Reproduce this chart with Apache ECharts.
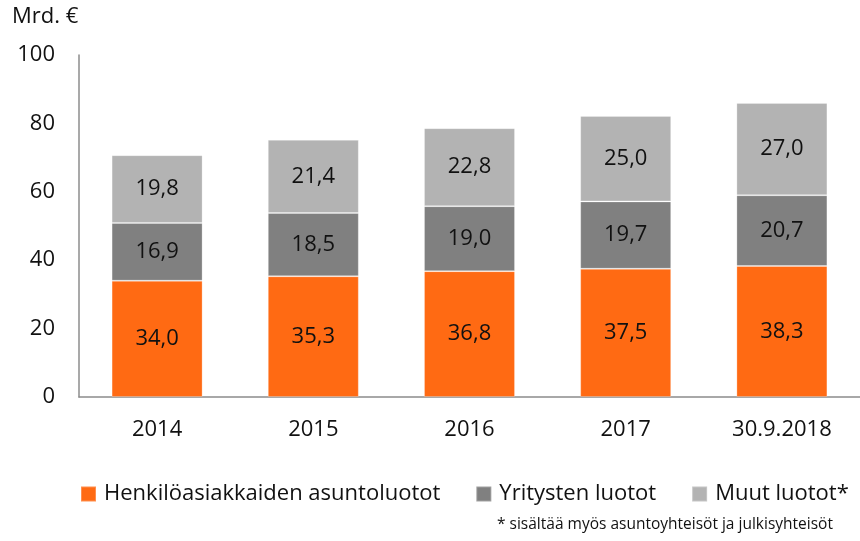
<!DOCTYPE html>
<html>
<head>
<meta charset="utf-8">
<script src="https://cdn.jsdelivr.net/npm/echarts@6/dist/echarts.min.js"></script>
<style>
html,body{margin:0;padding:0;background:#fff;}
#chart{width:860px;height:541px;}
</style>
</head>
<body>
<div id="chart"></div>
<script>
const categories = ['2014', '2015', '2016', '2017', '30.9.2018'];
const seriesNames = ['Henkilöasiakkaiden asuntoluotot', 'Yritysten luotot', 'Muut luotot*'];
const housingLoans = [34.0, 35.3, 36.8, 37.5, 38.3];
const corporateLoans = [16.9, 18.5, 19.0, 19.7, 20.7];
const otherLoans = [19.8, 21.4, 22.8, 25.0, 27.0];
const yTicks = [0, 20, 40, 60, 80, 100];
const unitLabel = 'Mrd. €';
const footnote = '* sisältää myös asuntoyhteisöt ja julkisyhteisöt';

const colors = ['#FF6A13', '#808080', '#B3B3B3'];
const FONT = 'Open Sans';

const chart = echarts.init(document.getElementById('chart'));
function mkSeries(name, data, color) {
  return {
    name: name,
    type: 'bar',
    stack: 'total',
    data: data,
    barWidth: 91,
    itemStyle: { color: color, borderColor: 'rgba(255,255,255,0.25)', borderWidth: 1 },
    label: {
      show: true,
      position: 'inside',
      color: '#111',
      fontFamily: FONT,
      fontSize: 22,
      formatter: p => p.value.toFixed(1).replace('.', ',')
    },
    emphasis: { disabled: true }
  };
}
chart.setOption({
  animation: false,
  color: colors,
  grid: { left: 79, right: 0, top: 55, bottom: 144, containLabel: false },
  xAxis: {
    type: 'category',
    data: categories,
    axisLine: { lineStyle: { color: '#8c8c8c', width: 1.5 } },
    axisTick: { show: false },
    axisLabel: { color: '#111', fontFamily: FONT, fontSize: 22, margin: 22 }
  },
  yAxis: {
    type: 'value',
    min: yTicks[0],
    max: yTicks[yTicks.length - 1],
    interval: 20,
    splitLine: { show: false },
    axisLine: { show: true, lineStyle: { color: '#8c8c8c', width: 1.5 } },
    axisTick: { show: false },
    axisLabel: { color: '#111', fontFamily: FONT, fontSize: 22, margin: 24 }
  },
  legend: {
    left: 80,
    top: 483,
    width: 780,
    padding: 0,
    itemWidth: 15,
    itemHeight: 15,
    itemGap: 35,
    icon: 'rect',
    data: seriesNames,
    textStyle: { color: '#111', fontFamily: FONT, fontSize: 22, padding: [0, 0, 0, 3] }
  },
  graphic: [
    { type: 'text', left: 12, top: 6, style: { text: unitLabel, fill: '#111', font: '22px "Open Sans"' } },
    { type: 'text', left: 497, top: 517, style: { text: footnote, fill: '#111', font: '15.5px "Open Sans"' } }
  ],
  series: [
    mkSeries(seriesNames[0], housingLoans, colors[0]),
    mkSeries(seriesNames[1], corporateLoans, colors[1]),
    mkSeries(seriesNames[2], otherLoans, colors[2])
  ]
});
</script>
</body>
</html>
